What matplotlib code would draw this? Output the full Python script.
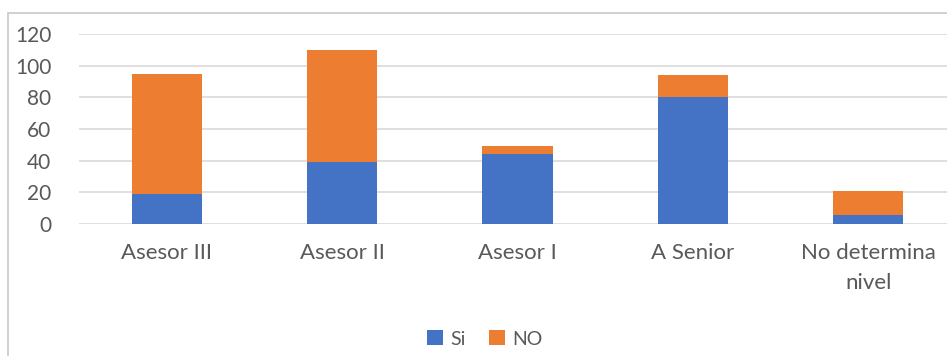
import numpy as np
import matplotlib.pyplot as plt
from matplotlib.patches import Rectangle

categorias = ['Asesor III', 'Asesor II', 'Asesor I', 'A Senior', 'No determina\nnivel']
si = [19, 39, 44, 80, 6]
no = [76, 71, 5, 14, 15]
yticks = [0, 20, 40, 60, 80, 100, 120]

plt.rcParams['font.family'] = ['Lato', 'DejaVu Sans']

fig = plt.figure(figsize=(9.47, 3.56), dpi=100)
W, H = 947, 356

# marco gris del recuadro del gráfico
fig.patches.append(Rectangle((8 / W, -0.1), 1.2, (H - 13) / H + 0.1,
                             transform=fig.transFigure, fill=False,
                             edgecolor='#c8c8c8', linewidth=1.2))

ax = fig.add_axes([79 / W, (H - 224) / H, (956 - 79) / W, 190 / H])
x = np.arange(len(categorias))
ax.bar(x, si, width=0.4, color='#4472c4', label='Si', zorder=3)
ax.bar(x, no, width=0.4, bottom=si, color='#ed7d31', label='NO', zorder=3)

ax.set_xlim(-0.5, 4.5)
ax.set_ylim(0, 120)
ax.set_yticks(yticks)
ax.grid(axis='y', color='#d9d9d9', linewidth=1.2, zorder=0)
for s in ax.spines.values():
    s.set_visible(False)
ax.tick_params(length=0, colors='#595959')
ax.tick_params(axis='y', pad=20, labelsize=15)
ax.tick_params(axis='x', pad=14, labelsize=16)
ax.set_xticks(x)
ax.set_xticklabels(categorias, linespacing=1.6)

fig.legend(loc='center', bbox_to_anchor=(485 / W, (H - 339) / H), ncol=2,
           frameon=False, fontsize=14, handlelength=0.8, handleheight=0.8,
           handletextpad=0.4, columnspacing=1.2, labelcolor='#595959')

plt.savefig('out.png')
